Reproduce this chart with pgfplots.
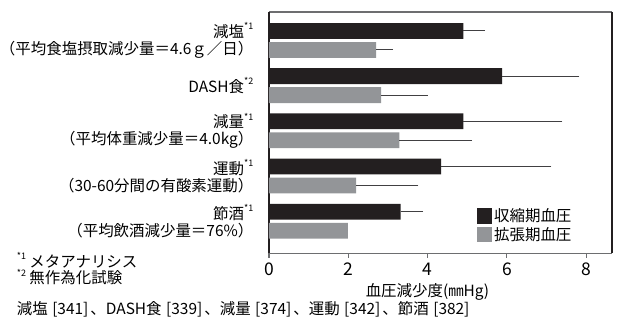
\documentclass[border=0pt]{standalone}
\usepackage{fontspec}
\setmainfont{Noto Sans CJK JP}
\usepackage{pgfplots}
\usepackage{pgfplotstable}
\pgfplotsset{compat=1.18}
\definecolor{barblack}{HTML}{231F20}
\definecolor{bargray}{HTML}{939598}
\definecolor{errcol}{HTML}{414042}
\definecolor{framegray}{HTML}{6D6E70}
\newcommand{\sy}[1]{\raisebox{0.48em}{\fontsize{9}{9}\selectfont #1}}
\newcommand{\lf}{\fontsize{15.5}{17}\selectfont}
\newcommand{\br}[1]{\kern4.5pt[#1]\kern2pt}

\pgfplotstableread{
y     x     e
4.21  4.90  0.55
3.21  5.88  1.95
2.21  4.90  2.50
1.21  4.34  2.78
0.21  3.32  0.57
}\systolic
\pgfplotstableread{
y     x     e
3.79  2.70  0.43
2.79  2.83  1.17
1.79  3.29  1.83
0.79  2.20  1.57
-0.21 1.99  0.00
}\diastolic

\begin{document}
\begin{tikzpicture}
\begin{axis}[
  name=ax,
  at={(0pt,0pt)}, anchor=south west,
  scale only axis, width=344pt, height=242pt,
  xmin=0, xmax=8.65, ymin=-0.71, ymax=4.63,
  xtick={0,2,4,6,8}, xtick pos=bottom, tick align=outside,
  major tick length=4.5pt,
  xtick style={color=framegray, line width=1.1pt},
  ytick={0,1,2,3,4}, ytick style={draw=none},
  yticklabels={
    {節酒\sy{*1}\\（平均飲酒減少量＝76\%）},
    {運動\sy{*1}\\（30-60分間の有酸素運動）},
    {減量\sy{*1}\\（平均体重減少量＝4.0kg）},
    {DASH食\sy{*2}},
    {減塩\sy{*1}\\（平均食塩摂取減少量＝4.6ｇ／日）}
  },
  yticklabel style={align=right, font=\lf, inner sep=0pt, xshift=-11pt},
  xticklabel style={font=\fontsize{17.5}{17.5}\selectfont, inner sep=0pt, yshift=-5pt},
  /pgf/number format/assume math mode=true,
  xlabel={血圧減少度(㎜Hg)},
  xlabel style={font=\lf, at={(axis description cs:0.462,0)}, anchor=center, yshift=-39pt},
  separate axis lines,
  axis line style={line width=1.1pt},
  every outer x axis line/.append style={color=framegray},
  every outer y axis line/.append style={color=barblack},
  legend style={draw=none, fill=none, at={(axis description cs:0.605,0.194)}, anchor=north west,
    inner sep=0pt, font=\lf, row sep=0pt},
  legend cell align=left,
  legend image code/.code={\fill[#1, draw=none] (0pt,-7.75pt) rectangle (15.5pt,7.75pt);},
]
\addplot[xbar, bar shift=0pt, bar width=0.35, fill=barblack, draw=none,
  error bars/.cd, x dir=plus, x explicit, error mark=none,
  error bar style={errcol, line width=1.1pt}]
  table[x=x, y=y, x error=e] {\systolic};
\addlegendentry{収縮期血圧}
\addplot[xbar, bar shift=0pt, bar width=0.35, fill=bargray, draw=none,
  error bars/.cd, x dir=plus, x explicit, error mark=none,
  error bar style={errcol, line width=1.1pt}]
  table[x=x, y=y, x error=e] {\diastolic};
\addlegendentry{拡張期血圧}
\end{axis}
\node[anchor=west, font=\lf, inner sep=0pt] at (-253pt,-7pt) {\sy{*1} メタアナリシス};
\node[anchor=west, font=\lf, inner sep=0pt] at (-253pt,-24pt) {\sy{*2} 無作為化試験};
\node[anchor=west, font=\lf, inner sep=0pt] at (-253pt,-56pt) {減塩\br{341}、DASH食\br{339}、減量\br{374}、運動\br{342}、節酒\br{382}};
\path (-268pt,-72pt) rectangle (351pt,254pt);
\end{tikzpicture}
\end{document}
